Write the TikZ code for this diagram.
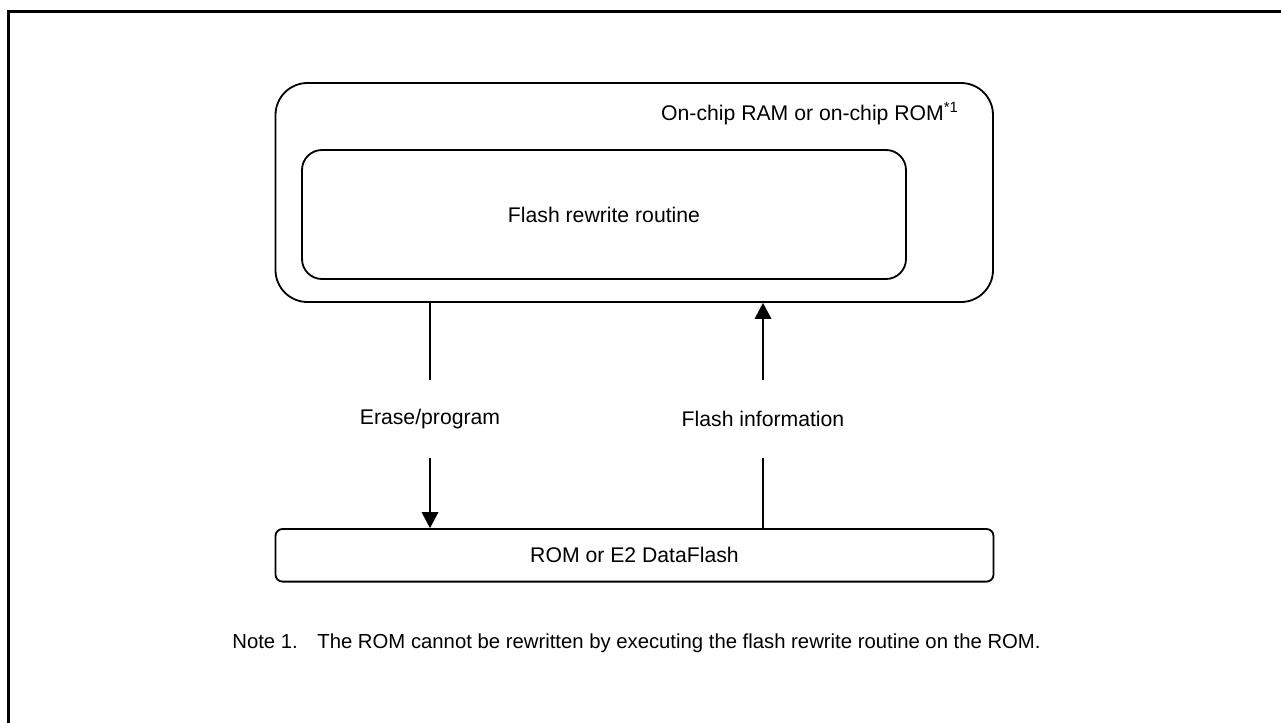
\documentclass[tikz,border=0pt]{standalone}
\usepackage{fontspec}
\setmainfont{Liberation Sans}
\usetikzlibrary{arrows.meta}
\begin{document}
\begin{tikzpicture}[x=0.5pt,y=-0.5pt,
  every node/.style={font=\fontsize{10.6pt}{12.7pt}\selectfont},
  box/.style={draw, line width=0.9pt, inner sep=0pt},
  conn/.style={line width=0.75pt},
  arr/.style={conn, -{Triangle[length=8pt,width=8.3pt]}},
  lbl/.style={inner sep=0pt, minimum height=39pt},
  notestyle/.style={font=\fontsize{10.15pt}{12.2pt}\selectfont, inner sep=0pt}]
\useasboundingbox (0,0) rectangle (1281,723);
\draw[line width=1.5pt] (8.5,723) -- (8.5,11.5) -- (1281,11.5);
\node[box, rounded corners=16pt, minimum width=358.75pt, minimum height=109.5pt] (outer) at (634.25,192.5) {};
\node[anchor=base east] (outerlbl) at (966,120) {On-chip RAM or on-chip ROM\textsuperscript{*1}};
\node[box, rounded corners=10pt, minimum width=302pt, minimum height=64.5pt] (inner) at (604,214.5) {Flash rewrite routine};
\node[box, rounded corners=3.5pt, minimum width=359pt, minimum height=26.3pt] (flash) at (634.5,555.3) {ROM or E2 DataFlash};
\node[lbl] (erase) at (430,419) {Erase/program};
\node[lbl] (info) at (763,419) {Flash information};
\draw[conn] (outer.south -| erase) -- (erase.north);
\draw[arr] (erase.south) -- (flash.north -| erase);
\draw[conn] (flash.north -| info) -- (info.south);
\draw[arr] (info.north) -- (outer.south -| info);
\node[notestyle, anchor=base west] (note) at (232,648) {\makebox[42.5pt][l]{Note 1.}The ROM cannot be rewritten by executing the flash rewrite routine on the ROM.};
\end{tikzpicture}
\end{document}
